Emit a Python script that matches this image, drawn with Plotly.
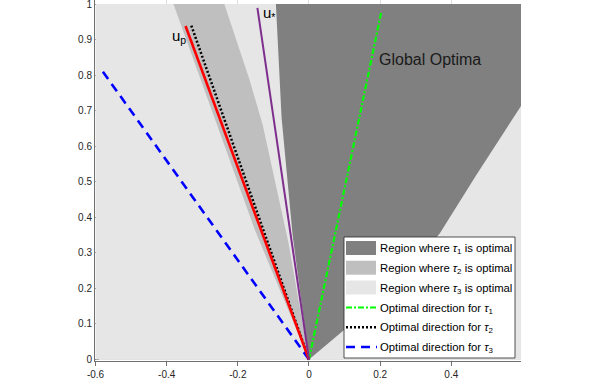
import plotly.graph_objects as go

# regions (data coordinates)
light_x = [-0.6, 0.61, 0.61, -0.6]
light_y = [0, 0, 1, 1]

band_x = [0, -0.075, -0.152, -0.2735, -0.381, -0.238, -0.205, -0.168, -0.13, -0.095, -0.058, 0]
band_y = [0, 0.177, 0.364, 0.702, 1.0, 1.0, 0.9, 0.79, 0.66, 0.5, 0.33, 0]

dark_x = [0, 0.095, 0.25, 0.368, 0.47, 0.61, 0.61, -0.093, -0.086, -0.077, -0.046, 0]
dark_y = [0, 0.08, 0.21, 0.355, 0.518, 0.735, 1.0, 1.0, 0.85, 0.68, 0.35, 0]

# directions (unit vectors from the origin)
dir_names = ['tau1', 'tau2', 'tau3', 'up', 'ustar']
dir_x = [0.2035, -0.332, -0.581, -0.347, -0.145]
dir_y = [0.979, 0.943, 0.812, 0.938, 0.989]

x_ticks = [-0.6, -0.4, -0.2, 0, 0.2, 0.4]
x_labels = ['-0.6', '-0.4', '-0.2', '0', '0.2', '0.4']
y_ticks = [0, 0.1, 0.2, 0.3, 0.4, 0.5, 0.6, 0.7, 0.8, 0.9, 1]
y_labels = ['0', '0.1', '0.2', '0.3', '0.4', '0.5', '0.6', '0.7', '0.8', '0.9', '1']

legend_labels = [
    'Region where <i>τ</i><sub>1</sub> is optimal',
    'Region where <i>τ</i><sub>2</sub> is optimal',
    'Region where <i>τ</i><sub>3</sub> is optimal',
    'Optimal direction for <i>τ</i><sub>1</sub>',
    'Optimal direction for <i>τ</i><sub>2</sub>',
    'Optimal direction for <i>τ</i><sub>3</sub>',
]

DARK = '#808080'
MID = '#bfbfbf'
LIGHT = '#e6e6e6'
styles = {
    'tau1': dict(color='#00ff00', width=2.2, dash='6px,2px,2px,2px'),
    'tau2': dict(color='#000000', width=2.5, dash='2px,2px'),
    'tau3': dict(color='#0000ff', width=2.6, dash='9px,6px'),
    'up': dict(color='#ff0000', width=2.6),
    'ustar': dict(color='#7e2f8e', width=2),
}
draw_order = ['tau1', 'tau2', 'tau3', 'up', 'ustar']

fig = go.Figure()
for xs, ys, col in [(light_x, light_y, LIGHT), (band_x, band_y, MID), (dark_x, dark_y, DARK)]:
    fig.add_trace(go.Scatter(x=xs, y=ys, mode='lines', fill='toself', fillcolor=col,
                             line=dict(width=0), hoverinfo='skip', showlegend=False))

for name in draw_order:
    i = dir_names.index(name)
    fig.add_trace(go.Scatter(x=[0, dir_x[i]], y=[0, dir_y[i]], mode='lines',
                             line=styles[name], hoverinfo='skip', showlegend=False))

# labels on the plot
fig.add_annotation(x=dir_x[3] - 0.045, y=dir_y[3] - 0.028, text='u<sub>p</sub>', showarrow=False,
                   xanchor='left', yanchor='middle', font=dict(size=15, color='#000000'))
fig.add_annotation(x=dir_x[4] + 0.01, y=dir_y[4] - 0.015, text='u<sub>*</sub>', showarrow=False,
                   xanchor='left', yanchor='middle', font=dict(size=15, color='#000000'))
fig.add_annotation(x=0.192, y=0.845, text='Global Optima', showarrow=False,
                   xanchor='left', yanchor='middle', font=dict(size=16, color='#1a1a1a'))


# hand-made legend box (pixel layout -> paper coords)
def px_x(p):
    return (p - 95) / 426


def px_y(p):
    return (361 - p) / 361


fig.add_shape(type='rect', xref='paper', yref='paper', x0=px_x(344), x1=px_x(515),
              y0=px_y(358), y1=px_y(237), fillcolor='white', line=dict(color='#262626', width=0.8))
row_y = [248, 267.7, 287.5, 307.5, 327.3, 347]
swatch = [DARK, MID, LIGHT]
for k, lab in enumerate(legend_labels):
    yc = row_y[k]
    if k < 3:
        fig.add_shape(type='rect', xref='paper', yref='paper', x0=px_x(346), x1=px_x(376),
                      y0=px_y(yc + 7), y1=px_y(yc - 7), fillcolor=swatch[k], line=dict(width=0))
    else:
        st = styles[dir_names[k - 3]]
        fig.add_shape(type='line', xref='paper', yref='paper', x0=px_x(346), x1=px_x(377),
                      y0=px_y(yc), y1=px_y(yc), line=dict(color=st['color'], width=st['width'], dash=st['dash']))
    fig.add_annotation(xref='paper', yref='paper', x=px_x(378), y=px_y(yc + 1), text=lab,
                       showarrow=False, xanchor='left', yanchor='middle',
                       font=dict(size=11.3, color='#000000'))

axis_col = '#707070'
fig.update_layout(
    width=598, height=381,
    margin=dict(l=95, r=77, t=0, b=20),
    plot_bgcolor='white', paper_bgcolor='white',
    showlegend=False,
    font=dict(family='Liberation Sans, Arial, sans-serif', size=10, color='#262626'),
    xaxis=dict(range=[-0.6015, 0.596], tickvals=x_ticks, ticktext=x_labels,
               tickfont=dict(size=10, color='#262626'),
               showgrid=True, gridcolor='#dedede', zeroline=False,
               showline=True, linecolor=axis_col, linewidth=1,
               ticks='outside', ticklen=4, tickcolor=axis_col, layer='below traces',
               automargin=False),
    yaxis=dict(range=[-0.0042, 1.0113], tickvals=y_ticks, ticktext=y_labels,
               tickfont=dict(size=10, color='#262626'), ticklabeloverflow='allow',
               showgrid=True, gridcolor='#dedede', zeroline=False,
               showline=True, linecolor=axis_col, linewidth=1,
               ticks='inside', ticklen=4, tickcolor=axis_col, layer='below traces',
               automargin=False),
)

# drop the browser's default page margin so the figure sits at the window corner
fig.write_html('out.html', config={'displayModeBar': False},
               post_script="document.body.style.margin='0';")
